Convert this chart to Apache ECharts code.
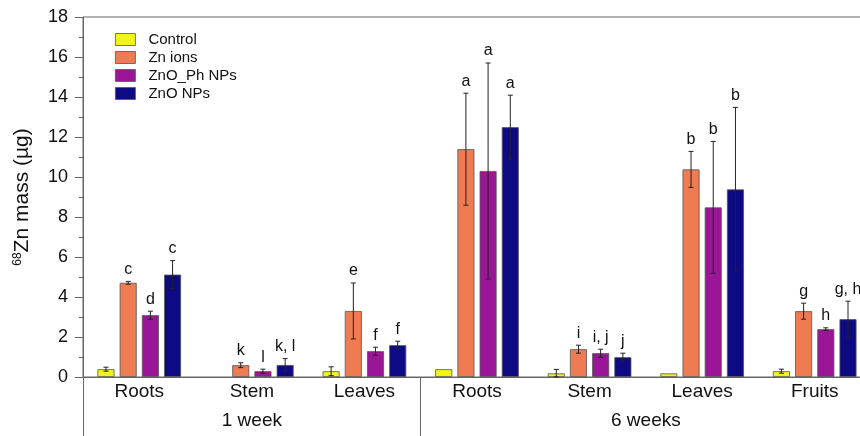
<!DOCTYPE html>
<html><head><meta charset="utf-8">
<script src="https://cdn.jsdelivr.net/npm/echarts@6/dist/echarts.min.js"></script>
<style>html,body{margin:0;padding:0;background:#fff}#c{width:860px;height:436px}</style>
</head><body><div id="c"></div>
<script>
const categories = ['Roots','Stem','Leaves','Roots','Stem','Leaves','Fruits'];
const groups = ['1 week','6 weeks'];
const groupSizes = [3, 4];
const seriesNames = ['Control','Zn ions','ZnO_Ph NPs','ZnO NPs'];
const colors = ['#f2f21c','#ee7b51','#9b1696','#0d0a83'];

const control    = [0.39, 0,    0.29, 0.39, 0.18, 0.18, 0.29];
const controlErr = [0.1,  0,    0.22, 0,    0.2,  0,    0.1];
const znIons     = [4.71, 0.59, 3.3,  11.39, 1.39, 10.38, 3.29];
const znIonsErr  = [0.07, 0.12, 1.4,  2.8,  0.2,  0.9,  0.4];
const znoPh      = [3.09, 0.29, 1.29, 10.3, 1.19, 8.48, 2.39];
const znoPhErr   = [0.2,  0.1,  0.2,  5.4,  0.2,  3.3,  0.07];
const zno        = [5.12, 0.6,  1.59, 12.49, 0.99, 9.38, 2.89];
const znoErr     = [0.7,  0.32, 0.2,  1.6,  0.2,  4.1,  0.9];

const controlLetters = ['', '', '', '', '', '', ''];
const znIonsLetters  = ['c','k','e','a','i','b','g'];
const znoPhLetters   = ['d','l','f','a','i, j','b','h'];
const znoLetters     = ['c','k, l','f','a','j','b','g, h'];

const yTicks = [0,2,4,6,8,10,12,14,16,18];

const values = [control, znIons, znoPh, zno];
const errors = [controlErr, znIonsErr, znoPhErr, znoErr];
const letters = [controlLetters, znIonsLetters, znoPhLetters, znoLetters];

// group boundaries and centres on a 0..N scale built from groupSizes
const groupBounds = [0];
groupSizes.forEach(n => groupBounds.push(groupBounds[groupBounds.length - 1] + n));
const groupCentres = groupSizes.map((n, g) => groupBounds[g] + n / 2);

const FONT = 'Liberation Sans, Arial, sans-serif';
const BAR_W = 17, BAR_GAP = 5.2;

const series = [];
seriesNames.forEach((name, s) => {
  series.push({
    name, type: 'bar', barWidth: BAR_W, barGap: (BAR_GAP / BAR_W * 100) + '%',
    itemStyle: { color: colors[s], borderColor: '#555', borderWidth: 0.8 },
    data: values[s].map(v => v === 0 ? null : v),
    z: 2
  });
});
seriesNames.forEach((name, s) => {
  series.push({
    name: name + ' err', type: 'custom', z: 5,
    data: values[s].map((v, i) => [i, v, errors[s][i]]),
    renderItem: (params, api) => {
      const i = api.value(0), v = api.value(1), e = api.value(2);
      const off = (s - 1.5) * (BAR_W + BAR_GAP);
      const top = api.coord([i, v + e]);
      const bot = api.coord([i, Math.max(0, v - e)]);
      const x = top[0] + off;
      const children = [];
      if (e > 0) {
        children.push({ type: 'line', shape: { x1: x, y1: top[1], x2: x, y2: bot[1] }, style: { stroke: '#222', lineWidth: 1 } });
        children.push({ type: 'line', shape: { x1: x - 2.5, y1: top[1], x2: x + 2.5, y2: top[1] }, style: { stroke: '#222', lineWidth: 1 } });
        children.push({ type: 'line', shape: { x1: x - 2.5, y1: bot[1], x2: x + 2.5, y2: bot[1] }, style: { stroke: '#222', lineWidth: 1 } });
      }
      const lt = letters[s][params.dataIndex];
      if (lt) {
        children.push({ type: 'text', style: { x: x, y: top[1] - 4, text: lt, textAlign: 'center', textVerticalAlign: 'bottom', font: '16px ' + FONT, fill: '#111' } });
      }
      return { type: 'group', children };
    }
  });
});

const chart = echarts.init(document.getElementById('c'), null, { renderer: 'canvas' });
chart.setOption({
  animation: false,
  textStyle: { fontFamily: FONT },
  grid: { left: 83, width: 788, top: 17, bottom: 59, show: true, borderColor: '#666', borderWidth: 1,
    containLabel: false, outerBoundsMode: 'none' },
  legend: {
    data: seriesNames, orient: 'vertical', left: 110, top: 27,
    itemWidth: 20, itemHeight: 12, itemGap: 3, icon: 'rect',
    itemStyle: { borderColor: '#555', borderWidth: 0.8 },
    textStyle: { fontSize: 15, color: '#111', padding: [0, 0, 0, 8] }
  },
  xAxis: [
    { type: 'category', data: categories, position: 'bottom',
      axisLine: { lineStyle: { color: '#666', width: 1 } }, axisTick: { show: false },
      axisLabel: { fontSize: 19, color: '#111', margin: 5, interval: 0 } },
    { type: 'value', min: groupBounds[0], max: groupBounds[groupBounds.length - 1], position: 'bottom', offset: 0,
      axisLine: { show: false },
      splitLine: { show: false },
      axisTick: { show: true, length: 60, customValues: groupBounds, lineStyle: { color: '#666' } },
      axisLabel: { fontSize: 19, color: '#111', margin: 34, customValues: groupCentres,
        formatter: (val) => groups[groupCentres.indexOf(val)] } }
  ],
  yAxis: {
    type: 'value', min: yTicks[0], max: yTicks[yTicks.length - 1], interval: 2,
    name: '{sup|68}{n|Zn mass (µg)}', nameLocation: 'middle', nameGap: 50, nameRotate: 90,
    nameTextStyle: { rich: { sup: { fontSize: 12, verticalAlign: 'top', padding: [0, 0, 9, 0], color: '#111' }, n: { fontSize: 21, color: '#111' } } },
    axisLine: { show: true, lineStyle: { color: '#666' } },
    axisTick: { show: true, length: 8, lineStyle: { color: '#666' } },
    minorTick: { show: true, splitNumber: 2, length: 4, lineStyle: { color: '#666' } },
    splitLine: { show: false },
    axisLabel: { fontSize: 18, color: '#111', margin: 15 }
  },
  series: series
});
</script></body></html>
